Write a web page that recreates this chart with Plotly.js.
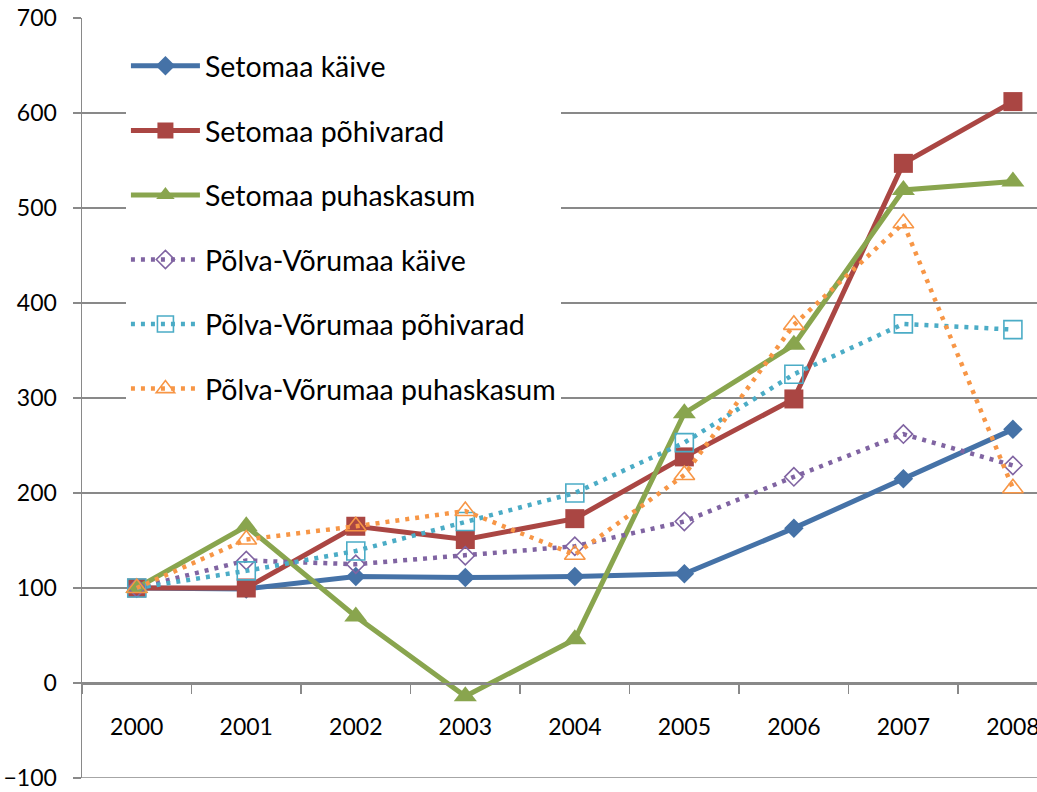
<!DOCTYPE html>
<html><head><meta charset="utf-8">
<script src="https://cdn.plot.ly/plotly-3.0.1.min.js"></script>
<style>html,body{margin:0;padding:0;background:#fff}#chart{width:1037px;height:792px}</style>
</head><body><div id="chart"></div><script>
const years = ['2000', '2001', '2002', '2003', '2004', '2005', '2006', '2007', '2008'];
const seriesNames = ['Setomaa käive', 'Setomaa põhivarad', 'Setomaa puhaskasum',
  'Põlva-Võrumaa käive', 'Põlva-Võrumaa põhivarad', 'Põlva-Võrumaa puhaskasum'];
const setomaaKaive = [100, 99, 112, 111, 112, 115, 163, 215, 267];
const setomaaPohivarad = [100, 100, 165, 151, 173, 238, 299, 547, 612];
const setomaaPuhaskasum = [100, 165, 70, -14, 46, 284, 356, 519, 528];
const pvKaive = [100, 129, 125, 134, 144, 170, 217, 262, 229];
const pvPohivarad = [100, 118, 139, 170, 200, 253, 325, 378, 372];
const pvPuhaskasum = [100, 151, 165, 181, 135, 219, 377, 484, 205];

const values = [setomaaKaive, setomaaPohivarad, setomaaPuhaskasum, pvKaive, pvPohivarad, pvPuhaskasum];
const colors = ['#4572A7', '#AA4643', '#89A54E', '#8064A2', '#4BACC6', '#F79646'];
const symbols = ['diamond', 'square', 'triangle-up', 'diamond-open', 'square-open', 'triangle-up-open'];
const sizes = [15, 19, 20, 14, 18, 18];
const dashes = ['solid', 'solid', 'solid', '4px,6px', '4px,6px', '4px,6px'];

const font = 'Lato, "Open Sans", sans-serif';
const gray = '#898989';

const traces = values.map((v, i) => ({
  type: 'scatter', mode: 'lines+markers',
  x: years, y: v, name: seriesNames[i], legendgroup: 'g' + i,
  line: {color: colors[i], width: i < 3 ? 5 : 4.5, dash: dashes[i]},
  marker: {symbol: symbols[i], size: sizes[i], color: colors[i],
    line: {color: colors[i], width: i < 3 ? 0 : 1.6}},
  cliponaxis: false
}));

const yMin = -100, yMax = 700;
const layout = {
  width: 1037, height: 792,
  paper_bgcolor: '#fff', plot_bgcolor: '#fff',
  margin: {l: 82, r: 0, t: 18, b: 14},
  showlegend: true,
  legend: {x: 0.046, xanchor: 'left', y: 0.97, yanchor: 'top', bgcolor: '#fff',
    font: {family: font, size: 28.5, color: '#000'}, tracegroupgap: 24.5, itemwidth: 69},
  xaxis: {type: 'category', range: [-0.5, 8.22], anchor: 'free', position: (0 - yMin) / (yMax - yMin),
    showline: true, linecolor: gray, linewidth: 1.5, showgrid: false, zeroline: false,
    ticks: 'outside', tickson: 'boundaries', ticklen: 9, tickcolor: gray, tickwidth: 1.5,
    tickfont: {family: font, size: 23, color: '#000'}, ticklabelstandoff: 23, fixedrange: true},
  yaxis: {range: [yMin, yMax], tick0: 0, dtick: 100, showline: true, linecolor: gray, linewidth: 1.5,
    gridcolor: gray, gridwidth: 1.3, zeroline: false,
    ticks: 'outside', ticklen: 8, tickcolor: gray, tickwidth: 1.5,
    tickfont: {family: font, size: 23, color: '#000'}, ticklabelstandoff: 11, fixedrange: true},
  shapes: [{type: 'line', layer: 'below', xref: 'paper', x0: 0, x1: 1, yref: 'y', y0: yMin, y1: yMin,
    line: {color: gray, width: 1.3}}]
};
Plotly.newPlot('chart', traces, layout, {displayModeBar: false, staticPlot: true});
</script></body></html>
